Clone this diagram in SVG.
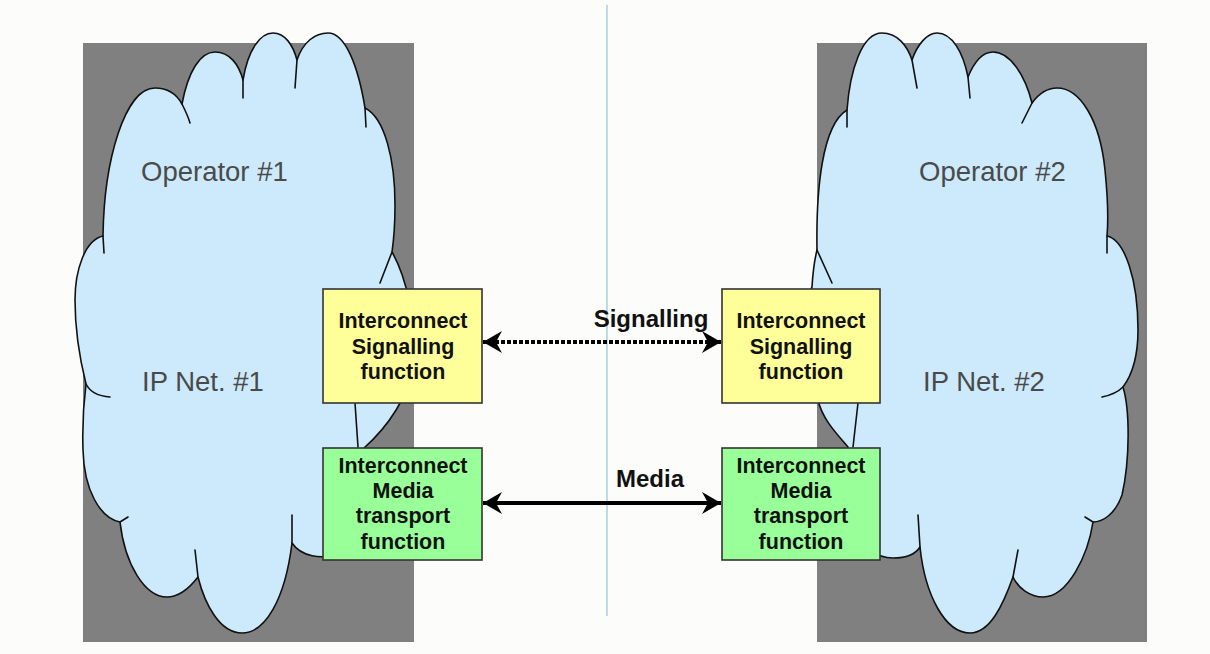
<svg xmlns="http://www.w3.org/2000/svg" width="1210" height="654" viewBox="0 0 1210 654">
<defs>
<style>
.bg{fill:#fcfcfa}
.op{fill:#808080}
.cloud{fill:#cceafb;stroke:#111;stroke-width:1.6;stroke-linejoin:round}
.stub{fill:none;stroke:#111;stroke-width:1.6;stroke-linecap:round}
.sig{fill:#ffff99;stroke:#333;stroke-width:1.6}
.med{fill:#99ff99;stroke:#333;stroke-width:1.6}
.bt{font-family:"Liberation Sans",Arial,sans-serif;font-weight:bold;font-size:21.5px;fill:#111;text-anchor:middle}
.lbl{font-family:"Liberation Sans",Arial,sans-serif;font-weight:bold;font-size:24px;fill:#111;text-anchor:middle}
.ct{font-family:"Liberation Sans",Arial,sans-serif;font-size:27.5px;fill:#4a4a4a}
.conn{fill:none;stroke:#000;stroke-width:4}
</style>
<marker id="ah" markerUnits="userSpaceOnUse" viewBox="-20 -13 21 26" refX="0" refY="0" markerWidth="21" markerHeight="26" orient="auto-start-reverse">
<path d="M0,0 L-19,-11 L-13,0 L-19,11 Z" fill="#000"/>
</marker>
</defs>
<rect class="bg" x="0" y="0" width="1210" height="654"/>
<line x1="607" y1="5" x2="607" y2="616" stroke="#a6d6dc" stroke-width="1.6"/>

<g id="operator1">
<rect class="op" x="83" y="43" width="331" height="599"/>
<path class="cloud" d="M103,236 C104,160 125,88 155,88 C168,88 177,95 182,104 C188,72 200,52 215,52 C230,52 239,65 243,80 C248,50 260,33 273,33 C285,33 293,45 297,60 C303,42 315,33 328,33 C345,33 358,65 365,108 C385,118 395,160 395,205 C395,230 393,245 392,252 C405,275 418,320 412,370 C408,395 390,425 364,448 C395,470 400,530 345,552 C320,562 300,555 292,543 C285,600 265,633 242,633 C220,633 205,605 198,577 C188,590 178,597 167,597 C145,597 125,565 120,522 C100,518 84,490 83,450 C82,420 84,400 86,384 C80,360 75,330 75,300 C75,270 85,240 103,236 Z"/>
<path class="stub" d="M103,236 L104,253 M182,104 C185,110 188,116 190,123 M243,80 L243,98 M297,60 L295,88 M365,108 L366,127 M392,252 L380,283 M355,403 L358,447 M292,543 L292,515 M198,577 L195,550 M120,522 L128,517 M86,384 C89,390 96,396 110,397"/>
<text class="ct" x="141" y="181">Operator #1</text>
<text class="ct" x="142" y="391">IP Net. #1</text>
</g>

<g id="operator2">
<rect class="op" x="817" y="43" width="330" height="599"/>
<path class="cloud" d="M817,250 C816,190 822,125 847,110 C850,70 862,33 882,33 C897,33 907,45 912,60 C917,45 927,33 937,33 C952,33 963,52 968,77 C975,60 983,52 993,52 C1010,52 1025,75 1032,103 C1040,92 1048,88 1057,88 C1080,88 1100,120 1105,170 C1108,200 1108,225 1107,236 C1125,240 1138,280 1138,330 C1138,355 1132,375 1123,387 C1130,410 1130,460 1122,495 C1115,515 1102,522 1093,522 C1088,555 1068,597 1043,597 C1030,597 1018,588 1013,577 C1003,605 990,633 970,633 C945,633 925,595 920,547 C915,555 905,558 893,558 C860,558 830,510 848,447 C835,432 822,418 818,400 C800,360 805,300 812,287 C813,270 815,258 817,250 Z"/>
<path class="stub" d="M817,250 L832,283 M847,110 L847,127 M912,60 L917,88 M968,77 L970,98 M1032,103 L1022,123 M1107,236 L1107,253 M1123,387 C1119,391 1112,395 1102,397 M1093,522 L1085,517 M1013,577 L1018,550 M920,547 L918,515 M858,403 L853,447"/>
<text class="ct" x="919" y="181">Operator #2</text>
<text class="ct" x="923" y="391">IP Net. #2</text>
</g>

<g id="isf1">
<rect class="sig" x="323" y="289" width="159" height="114"/>
<text class="bt" x="403" y="328">Interconnect</text>
<text class="bt" x="403" y="354">Signalling</text>
<text class="bt" x="403" y="379">function</text>
</g>
<g id="imtf1">
<rect class="med" x="323" y="448" width="159" height="112"/>
<text class="bt" x="403" y="473">Interconnect</text>
<text class="bt" x="403" y="498">Media</text>
<text class="bt" x="403" y="523">transport</text>
<text class="bt" x="403" y="549">function</text>
</g>
<g id="isf2">
<rect class="sig" x="722" y="289" width="158" height="114"/>
<text class="bt" x="801" y="328">Interconnect</text>
<text class="bt" x="801" y="354">Signalling</text>
<text class="bt" x="801" y="379">function</text>
</g>
<g id="imtf2">
<rect class="med" x="722" y="448" width="158" height="112"/>
<text class="bt" x="801" y="473">Interconnect</text>
<text class="bt" x="801" y="498">Media</text>
<text class="bt" x="801" y="523">transport</text>
<text class="bt" x="801" y="549">function</text>
</g>

<g id="connectors">
<line class="conn" x1="483" y1="342" x2="721" y2="342" stroke-dasharray="4 2" marker-start="url(#ah)" marker-end="url(#ah)"/>
<text class="lbl" x="651" y="327">Signalling</text>
<line class="conn" x1="483" y1="503" x2="721" y2="503" marker-start="url(#ah)" marker-end="url(#ah)"/>
<text class="lbl" x="650" y="487">Media</text>
</g>
</svg>
